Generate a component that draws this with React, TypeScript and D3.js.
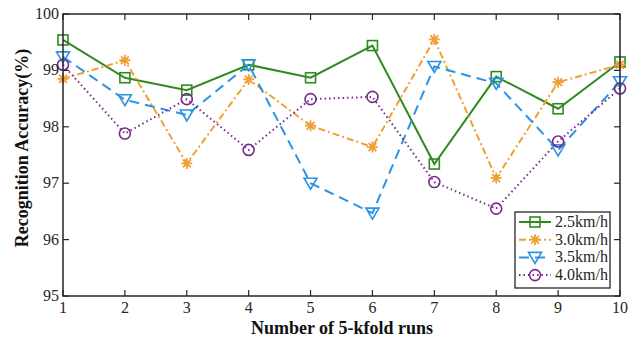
import * as d3 from "d3"
import { useEffect, useRef } from "react"

const runs = [1, 2, 3, 4, 5, 6, 7, 8, 9, 10]
const speed25 = [99.54, 98.87, 98.65, 99.1, 98.87, 99.44, 97.34, 98.89, 98.32, 99.15]
const speed30 = [98.85, 99.18, 97.35, 98.84, 98.02, 97.64, 99.55, 97.09, 98.79, 99.1]
const speed35 = [99.24, 98.48, 98.21, 99.1, 97.0, 96.47, 99.07, 98.77, 97.59, 98.8]
const speed40 = [99.1, 97.88, 98.49, 97.59, 98.49, 98.53, 97.02, 96.55, 97.74, 98.68]
const yTicks = [95, 96, 97, 98, 99, 100]

const series = [
  { name: "2.5km/h", values: speed25, color: "#2f8a1f", dash: "", marker: "square" },
  { name: "3.0km/h", values: speed30, color: "#f0a033", dash: "7,3,2,3", marker: "star" },
  { name: "3.5km/h", values: speed35, color: "#2a93e6", dash: "10,6", marker: "triangle" },
  { name: "4.0km/h", values: speed40, color: "#7a2a8c", dash: "1.5,3", marker: "circle" },
]

const W = 638
const H = 339
const margin = { top: 14, right: 18, bottom: 43, left: 63 }
const font = "'Liberation Serif', 'Times New Roman', serif"

const drawMarker = (g, type, x, y, color) => {
  if (type === "square") {
    g.append("rect").attr("x", x - 5).attr("y", y - 5).attr("width", 10).attr("height", 10)
      .attr("fill", "none").attr("stroke", color).attr("stroke-width", 1.6)
  } else if (type === "circle") {
    g.append("circle").attr("cx", x).attr("cy", y).attr("r", 5.5)
      .attr("fill", "none").attr("stroke", color).attr("stroke-width", 1.6)
  } else if (type === "triangle") {
    g.append("path").attr("d", `M${x - 6.5},${y - 5} L${x + 6.5},${y - 5} L${x},${y + 6} Z`)
      .attr("fill", "none").attr("stroke", color).attr("stroke-width", 1.6)
  } else {
    const r = 5.5
    const p = d3.range(4).map((i) => {
      const a = (i * Math.PI) / 4
      return `M${x - r * Math.cos(a)},${y - r * Math.sin(a)} L${x + r * Math.cos(a)},${y + r * Math.sin(a)}`
    }).join(" ")
    g.append("path").attr("d", p).attr("stroke", color).attr("stroke-width", 1.8)
  }
}

const App = () => {
  const ref = useRef()

  useEffect(() => {
    const svg = d3.select(ref.current)
    svg.selectAll("*").remove()
    const iw = W - margin.left - margin.right
    const ih = H - margin.top - margin.bottom

    const x = d3.scaleLinear().domain([1, 10]).range([margin.left, margin.left + iw])
    const y = d3.scaleLinear().domain([95, 100]).range([margin.top + ih, margin.top])

    svg.append("rect").attr("width", W).attr("height", H).attr("fill", "white")

    const line = d3.line().x((d, i) => x(runs[i])).y((d) => y(d))
    series.forEach((s) => {
      svg.append("path").datum(s.values).attr("d", line).attr("fill", "none")
        .attr("stroke", s.color).attr("stroke-width", 2).attr("stroke-dasharray", s.dash)
      const mg = svg.append("g")
      s.values.forEach((v, i) => drawMarker(mg, s.marker, x(runs[i]), y(v), s.color))
    })

    // axes box
    const axis = svg.append("g")
    axis.append("rect").attr("x", margin.left).attr("y", margin.top).attr("width", iw).attr("height", ih)
      .attr("fill", "none").attr("stroke", "#262626").attr("stroke-width", 1.5)

    runs.forEach((r) => {
      axis.append("line").attr("x1", x(r)).attr("x2", x(r)).attr("y1", margin.top + ih).attr("y2", margin.top + ih - 6)
        .attr("stroke", "#262626").attr("stroke-width", 1.2)
      axis.append("line").attr("x1", x(r)).attr("x2", x(r)).attr("y1", margin.top).attr("y2", margin.top + 6)
        .attr("stroke", "#262626").attr("stroke-width", 1.2)
      axis.append("text").attr("x", x(r)).attr("y", margin.top + ih + 17).attr("text-anchor", "middle")
        .attr("font-family", font).attr("font-size", 16).attr("fill", "#262626").text(r)
    })
    yTicks.forEach((t) => {
      axis.append("line").attr("x1", margin.left).attr("x2", margin.left + 6).attr("y1", y(t)).attr("y2", y(t))
        .attr("stroke", "#262626").attr("stroke-width", 1.2)
      axis.append("line").attr("x1", margin.left + iw).attr("x2", margin.left + iw - 6).attr("y1", y(t)).attr("y2", y(t))
        .attr("stroke", "#262626").attr("stroke-width", 1.2)
      axis.append("text").attr("x", margin.left - 4).attr("y", y(t) + 5).attr("text-anchor", "end")
        .attr("font-family", font).attr("font-size", 16).attr("fill", "#262626").text(t)
    })

    svg.append("text").attr("x", 342).attr("y", 334).attr("text-anchor", "middle")
      .attr("font-family", font).attr("font-size", 18).attr("font-weight", "bold").attr("fill", "#111")
      .text("Number of 5-kfold runs")
    svg.append("text").attr("transform", `translate(28,148) rotate(-90)`)
      .attr("text-anchor", "middle").attr("font-family", font).attr("font-size", 18)
      .attr("font-weight", "bold").attr("fill", "#111").text("Recognition Accuracy(%)")

    // legend
    const lg = svg.append("g")
    lg.append("rect").attr("x", 515).attr("y", 212).attr("width", 95).attr("height", 76)
      .attr("fill", "white").attr("stroke", "#262626").attr("stroke-width", 1.3)
    series.forEach((s, i) => {
      const ly = 222 + i * 17.7
      lg.append("line").attr("x1", 519).attr("x2", 551).attr("y1", ly).attr("y2", ly)
        .attr("stroke", s.color).attr("stroke-width", 2).attr("stroke-dasharray", s.dash)
      drawMarker(lg, s.marker, 535, ly, s.color)
      lg.append("text").attr("x", 555).attr("y", ly + 5).attr("font-family", font).attr("font-size", 16)
        .attr("fill", "#262626").text(s.name)
    })
  }, [])

  return <svg ref={ref} width={W} height={H} style={{ position: "absolute", left: 0, top: 0 }}></svg>
}

export default App
